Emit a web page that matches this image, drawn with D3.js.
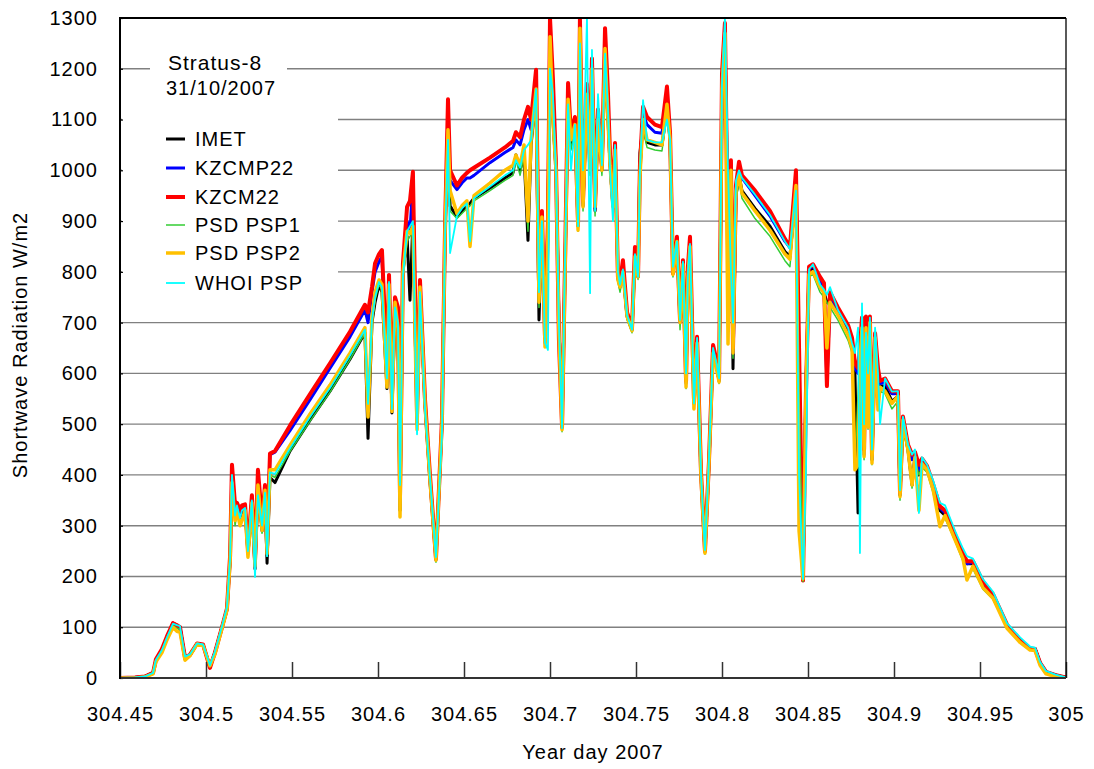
<!DOCTYPE html>
<html><head><meta charset="utf-8">
<script src="https://cdn.jsdelivr.net/npm/d3@7"></script>
<style>
body{margin:0;background:#fff}
svg text{font-family:"Liberation Sans",Arial,sans-serif;fill:#000;letter-spacing:1px}
</style>
</head><body>
<svg id="c" width="1094" height="769"></svg>
<script>
const days=[304.4500,304.4587,304.4645,304.4692,304.4709,304.4744,304.4773,304.4808,304.4831,304.4849,
304.4878,304.4907,304.4948,304.4983,304.5023,304.5052,304.5093,304.5122,304.5140,304.5151,
304.5169,304.5180,304.5198,304.5209,304.5227,304.5244,304.5267,304.5285,304.5302,304.5326,
304.5343,304.5355,304.5372,304.5401,304.5488,304.5605,304.5721,304.5837,304.5924,304.5942,
304.5965,304.5983,304.6006,304.6023,304.6052,304.6064,304.6081,304.6099,304.6116,304.6128,
304.6145,304.6169,304.6186,304.6203,304.6227,304.6244,304.6273,304.6302,304.6337,304.6372,
304.6390,304.6407,304.6419,304.6459,304.6488,304.6517,304.6535,304.6558,304.6651,304.6738,
304.6785,304.6802,304.6826,304.6849,304.6872,304.6890,304.6919,304.6936,304.6953,304.6971,
304.6988,304.7000,304.7017,304.7035,304.7052,304.7070,304.7087,304.7105,304.7122,304.7145,
304.7163,304.7174,304.7192,304.7215,304.7233,304.7244,304.7262,304.7279,304.7302,304.7320,
304.7337,304.7349,304.7366,304.7378,304.7395,304.7407,304.7424,304.7448,304.7477,304.7494,
304.7512,304.7523,304.7541,304.7564,304.7610,304.7651,304.7680,304.7698,304.7715,304.7738,
304.7756,304.7773,304.7791,304.7802,304.7814,304.7837,304.7855,304.7878,304.7901,304.7924,
304.7948,304.7965,304.7983,304.8000,304.8017,304.8035,304.8052,304.8064,304.8081,304.8099,
304.8116,304.8192,304.8279,304.8366,304.8395,304.8430,304.8448,304.8471,304.8488,304.8506,
304.8529,304.8570,304.8593,304.8610,304.8628,304.8674,304.8733,304.8756,304.8773,304.8791,
304.8802,304.8814,304.8826,304.8837,304.8849,304.8860,304.8872,304.8890,304.8907,304.8919,
304.8948,304.8988,304.9023,304.9035,304.9052,304.9081,304.9105,304.9122,304.9145,304.9163,
304.9192,304.9227,304.9267,304.9297,304.9355,304.9401,304.9424,304.9459,304.9517,304.9576,
304.9657,304.9733,304.9791,304.9820,304.9849,304.9884,304.9936,305.0000];

const imet=[0,1,3,10,35,55,80,108,104,100,
38,45,68,65,22,50,100,135,230,390,
320,335,310,325,335,245,340,215,370,290,
360,226,395,385,447,508,565,628,680,472,
700,740,775,760,570,780,522,720,700,330,
800,870,744,900,500,770,540,390,235,500,
880,1080,930,908,920,930,935,945,965,985,
995,1030,1000,1030,862,1050,1150,705,900,680,
900,1250,1100,1000,700,495,800,1130,1050,1090,
890,1260,930,1150,1000,1200,920,1100,1000,1220,
1100,1010,930,1040,790,770,800,712,685,830,
790,1034,1090,1055,1050,1050,1120,1060,800,860,
705,820,590,790,850,540,660,400,250,420,
645,620,585,1150,1270,900,1000,609,950,990,
960,925,890,840,830,960,600,192,575,800,
810,770,760,740,740,720,680,660,600,325,
620,690,450,690,500,700,430,670,560,575,
575,545,555,360,505,450,380,440,400,425,
412,375,330,320,275,240,225,225,185,160,
103,75,58,58,30,12,6,1];

const kzcmp22=[0,1,3,10,35,55,80,107,103,100,
38,45,68,65,22,50,100,135,235,410,
330,340,320,335,338,250,355,220,400,300,
370,250,440,445,487,548,610,672,725,700,
760,800,820,830,600,785,540,740,720,350,
810,900,880,980,510,775,545,395,232,505,
880,1120,980,962,975,985,985,990,1015,1035,
1045,1060,1050,1080,1100,1080,1180,760,910,660,
880,1280,1150,1010,700,492,800,1150,1060,1095,
890,1280,935,1160,1000,1210,925,1110,1005,1250,
1140,1020,935,1050,785,775,810,715,686,840,
790,1000,1110,1090,1075,1073,1150,1065,800,865,
700,820,580,800,860,545,665,400,250,420,
650,620,587,1170,1280,820,1015,640,960,1010,
985,950,910,860,848,990,620,192,560,805,
812,780,770,580,750,725,690,660,610,600,
640,700,440,700,500,705,430,670,600,580,
582,560,560,360,510,455,430,440,410,430,
415,380,335,325,280,243,225,228,188,162,
103,75,58,58,30,12,6,1];

const kzcm22=[0,1,3,10,37,57,82,108,104,100,
40,46,68,66,20,50,100,137,240,420,
340,345,330,340,342,255,360,230,410,310,
380,260,442,447,497,559,620,682,735,720,
770,817,835,843,610,794,560,750,730,360,
817,928,940,997,520,784,550,400,235,510,
890,1140,1000,970,985,995,1000,1005,1025,1045,
1058,1075,1065,1100,1125,1100,1198,780,920,670,
900,1300,1180,1007,666,495,810,1172,1070,1105,
896,1300,940,1170,1010,1220,930,1120,1007,1280,
1152,1030,940,1054,790,780,823,720,690,849,
795,1010,1125,1105,1090,1085,1165,1073,797,869,
705,823,585,810,869,550,672,405,250,425,
656,630,590,1190,1290,850,1020,650,970,1017,
990,960,920,865,849,1000,650,192,560,810,
815,790,778,575,760,730,695,670,620,610,
650,710,450,712,505,712,440,679,610,585,
590,565,565,365,515,460,440,445,420,432,
418,382,338,330,282,245,230,230,190,165,
105,75,58,57,30,12,6,1];

const psdPsp1=[0,0,2,9,33,52,76,103,98,95,
36,44,67,64,22,48,97,132,225,380,
300,325,300,315,320,240,330,210,350,285,
350,240,400,395,446,506,563,627,680,520,
700,745,775,765,580,770,530,720,680,330,
790,860,870,880,495,760,534,385,228,495,
870,1060,920,905,915,925,930,940,960,980,
990,1020,990,1030,880,1050,1140,730,900,660,
860,1240,1080,990,690,485,780,1120,1040,1080,
880,1250,920,1140,990,1180,910,1090,990,1210,
1090,1000,920,1030,780,760,790,705,680,820,
785,980,1080,1045,1040,1038,1110,1050,790,850,
686,810,570,780,840,530,650,390,244,410,
640,610,580,1140,1260,800,990,630,940,980,
945,905,870,822,810,950,560,190,560,790,
795,760,750,740,730,705,665,640,420,560,
630,680,430,680,490,690,420,660,540,565,
560,530,545,350,495,440,374,430,400,415,
405,365,300,315,270,230,195,215,175,155,
98,70,55,56,28,10,5,1];

const psdPsp2=[0,0,2,8,32,50,75,100,92,90,
35,44,67,64,24,47,98,134,230,385,
310,330,300,310,330,238,345,220,380,291,
370,245,410,410,458,520,577,640,690,514,
710,760,784,775,573,775,525,740,690,317,
800,880,876,890,489,770,540,390,232,502,
882,1080,960,915,930,940,850,950,975,1000,
1010,1030,1010,1050,900,1060,1160,740,908,652,
870,1263,1100,1000,680,489,790,1140,1060,1090,
882,1280,928,1150,1000,1200,928,1100,1000,1240,
1100,1010,928,1040,784,770,800,712,684,830,
790,990,1100,1060,1055,1050,1130,1060,795,860,
700,815,573,790,850,530,660,395,246,420,
640,615,583,1160,1270,658,1000,640,960,990,
955,920,882,835,825,970,290,195,560,795,
800,770,758,650,740,715,675,650,410,420,
620,690,436,690,494,700,423,670,528,573,
565,541,555,357,508,450,380,435,330,422,
410,372,298,320,272,235,193,220,178,157,
98,70,55,54,25,8,3,0];

const whoiPsp=[0,1,3,10,36,55,80,107,104,102,
42,47,68,66,25,52,102,140,235,400,
320,340,315,330,335,250,350,199,360,300,
365,240,405,402,452,514,571,635,686,540,
705,750,780,770,590,780,530,730,700,380,
790,880,890,900,480,760,530,395,238,480,
870,1060,837,910,925,935,860,945,968,990,
1000,1020,1005,1040,1050,1060,1160,760,900,660,
646,1200,1150,990,700,492,820,1130,1000,1090,
890,1250,1000,1300,758,1237,920,1150,1010,1230,
1120,1000,900,1050,800,775,805,715,686,835,
790,1000,1138,1060,1055,1055,1100,1060,810,860,
705,820,600,800,855,541,670,400,252,430,
650,625,590,1170,1300,1000,800,700,980,1000,
985,952,912,860,845,960,400,195,400,805,
815,775,765,755,770,725,690,660,640,690,
246,738,500,680,600,710,450,690,600,500,
590,564,565,370,515,460,440,450,325,435,
420,390,345,340,290,255,240,235,195,170,
108,80,62,60,32,14,7,1];

const seriesNames=["IMET","KZCMP22","KZCM22","PSD PSP1","PSD PSP2","WHOI PSP"];
const seriesValues=[imet,kzcmp22,kzcm22,psdPsp1,psdPsp2,whoiPsp];
const seriesColors=["#000000","#0000ff","#ff0000","#33cc33","#ffc000","#00ffff"];
const seriesWidths=[3,3,4,1.5,3.5,1.8];

const yTicks=[0,100,200,300,400,500,600,700,800,900,1000,1100,1200,1300];
const xTicks=[304.45,304.5,304.55,304.6,304.65,304.7,304.75,304.8,304.85,304.9,304.95,305];
const xTickLabels=["304.45","304.5","304.55","304.6","304.65","304.7","304.75","304.8","304.85","304.9","304.95","305"];

const titleText="Stratus-8", subtitleText="31/10/2007";
const xTitle="Year day 2007", yTitle="Shortwave Radiation W/m2";

// layout
const L=120,R=1066,T=18,B=678;
const svg=d3.select("#c");
const x=d3.scaleLinear().domain([304.45,305]).range([L,R]);
const y=d3.scaleLinear().domain([0,1300]).range([B,T]);

// gridlines
svg.append("g").selectAll("line").data(yTicks.filter(v=>v>0&&v<1300)).join("line")
  .attr("x1",L).attr("x2",R).attr("y1",d=>y(d)).attr("y2",d=>y(d))
  .attr("stroke","#808080").attr("stroke-width",1.4);

// white boxes behind legend/title
svg.append("rect").attr("x",150).attr("y",42).attr("width",137).attr("height",58).attr("fill","#fff");
svg.append("rect").attr("x",L+2).attr("y",100).attr("width",338-L-2).attr("height",205).attr("fill","#fff");

// clip
svg.append("clipPath").attr("id","clip").append("rect")
  .attr("x",L).attr("y",T).attr("width",R-L).attr("height",B-T);

const line=d3.line().x((d,i)=>x(days[i])).y(d=>y(d));
const gLines=svg.append("g").attr("clip-path","url(#clip)");
seriesValues.forEach((vals,k)=>{
  gLines.append("path").datum(vals).attr("d",line)
    .attr("fill","none").attr("stroke",seriesColors[k])
    .attr("stroke-width",seriesWidths[k]).attr("stroke-linejoin","round");
});

// axes
const xAxis=d3.axisBottom(x).tickValues(xTicks).tickFormat((d,i)=>xTickLabels[i])
  .tickSizeInner(-16).tickSizeOuter(0).tickPadding(29);
const gx=svg.append("g").attr("transform",`translate(0,${B})`).call(xAxis);
gx.select(".domain").remove();
gx.selectAll(".tick line").attr("stroke","#333").attr("stroke-width",1.5);
gx.selectAll(".tick text").attr("font-size",20).style("font-family","'Liberation Sans',Arial,sans-serif");

const yAxis=d3.axisLeft(y).tickValues(yTicks).tickFormat(d3.format("d"))
  .tickSizeInner(-3).tickSizeOuter(0).tickPadding(22);
const gy=svg.append("g").attr("transform",`translate(${L},0)`).call(yAxis);
gy.select(".domain").remove();
gy.selectAll(".tick line").attr("stroke","#000").attr("stroke-width",1.2);
gy.selectAll(".tick text").attr("font-size",20).style("font-family","'Liberation Sans',Arial,sans-serif");

// frame
svg.append("line").attr("x1",L).attr("x2",R).attr("y1",T).attr("y2",T).attr("stroke","#000").attr("stroke-width",1.8);
svg.append("line").attr("x1",R).attr("x2",R).attr("y1",T).attr("y2",B).attr("stroke","#000").attr("stroke-width",1.3);
svg.append("line").attr("x1",L).attr("x2",R).attr("y1",B).attr("y2",B).attr("stroke","#333").attr("stroke-width",2);
svg.append("line").attr("x1",L).attr("x2",L).attr("y1",T-1).attr("y2",B+1).attr("stroke","#000").attr("stroke-width",2);

// titles
svg.append("text").attr("x",168).attr("y",70).attr("font-size",21).text(titleText);
svg.append("text").attr("x",166).attr("y",95).attr("font-size",20).text(subtitleText);

// legend
const legRows=[139,168,197,225,253,283];
seriesNames.forEach((n,k)=>{
  svg.append("line").attr("x1",166).attr("x2",185).attr("y1",legRows[k]).attr("y2",legRows[k])
    .attr("stroke",seriesColors[k]).attr("stroke-width",seriesWidths[k]);
  svg.append("text").attr("x",195).attr("y",legRows[k]).attr("dy","0.35em").attr("font-size",20).text(n);
});

// axis titles
svg.append("text").attr("x",593).attr("y",759).attr("text-anchor","middle").attr("font-size",20).text(xTitle);
svg.append("text").attr("transform","translate(20,345) rotate(-90)").attr("dy","0.35em")
  .attr("text-anchor","middle").attr("font-size",20).text(yTitle);
</script>
</body></html>
